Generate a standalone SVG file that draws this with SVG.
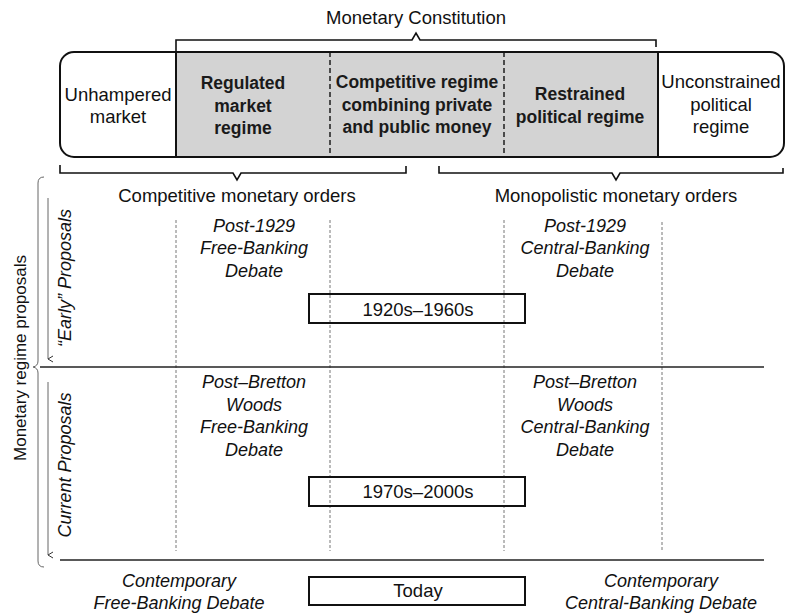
<svg xmlns="http://www.w3.org/2000/svg" width="786" height="615" viewBox="0 0 786 615">
<defs>
<marker id="arr" markerWidth="8" markerHeight="8" refX="4" refY="7" orient="auto-start-reverse" markerUnits="userSpaceOnUse">
<path d="M1,2 L4,7 L7,2" fill="none" stroke="#333" stroke-width="1"/>
</marker>
</defs>
<style>
text{font-family:"Liberation Sans",Arial,sans-serif;fill:#111;}
.r{font-size:18.5px;text-anchor:middle;}
.b{font-size:17.5px;font-weight:bold;text-anchor:middle;fill:#1a1a1a;}
.i{font-size:18px;font-style:italic;text-anchor:middle;}
.t{font-size:18.5px;text-anchor:middle;}
.box{fill:none;stroke:#111;stroke-width:2;}
.brk{fill:none;stroke:#111;stroke-width:1.6;}
.dot{stroke:#777;stroke-width:1;stroke-dasharray:3 2;fill:none;}
.hl{stroke:#222;stroke-width:1.6;fill:none;}
.thin{stroke:#666;stroke-width:1;fill:none;}
</style>
<rect width="786" height="615" fill="#fff"/>

<g id="regime-spectrum">
<rect x="176" y="52" width="482" height="105" fill="#d3d3d3"/>
<rect x="60" y="52" width="724" height="105" rx="14" ry="14" class="box"/>
<line x1="176" y1="52" x2="176" y2="157" stroke="#111" stroke-width="2"/>
<line x1="658" y1="52" x2="658" y2="157" stroke="#111" stroke-width="2"/>
<line x1="330" y1="52" x2="330" y2="157" stroke="#111" stroke-width="1.4" stroke-dasharray="5 3"/>
<line x1="504" y1="52" x2="504" y2="157" stroke="#111" stroke-width="1.4" stroke-dasharray="5 3"/>
</g>
<g id="unhampered">
<text class="r" x="118" y="101">Unhampered</text>
<text class="r" x="118" y="123">market</text>
</g>
<g id="regulated">
<text class="b" x="243" y="89">Regulated</text>
<text class="b" x="243" y="112">market</text>
<text class="b" x="243" y="134">regime</text>
</g>
<g id="competitive">
<text class="b" x="417" y="88">Competitive regime</text>
<text class="b" x="417" y="111">combining private</text>
<text class="b" x="417" y="133">and public money</text>
</g>
<g id="restrained">
<text class="b" x="580" y="100">Restrained</text>
<text class="b" x="580" y="123">political regime</text>
</g>
<g id="unconstrained">
<text class="r" x="721" y="88">Unconstrained</text>
<text class="r" x="721" y="111">political</text>
<text class="r" x="721" y="133">regime</text>
</g>

<g id="monetary-constitution">
<path class="brk" d="M176,52 L176,40 L412,40 L416,33 L420,40 L656,40 L656,47"/>
<text class="r" x="416" y="24">Monetary Constitution</text>
</g>
<g id="competitive-orders">
<path class="brk" d="M60,165 L60,173 L233,173 L237,180 L241,173 L406,173 L406,166"/>
<text class="r" x="237" y="202">Competitive monetary orders</text>
</g>
<g id="monopolistic-orders">
<path class="brk" d="M439,166 L439,173 L612,173 L616,180 L620,173 L783,173 L783,168"/>
<text class="r" x="616" y="202">Monopolistic monetary orders</text>
</g>

<g id="connectors">
<line class="dot" x1="176" y1="220" x2="176" y2="551"/>
<line class="dot" x1="330" y1="220" x2="330" y2="551"/>
<line class="dot" x1="504" y1="220" x2="504" y2="551"/>
<line class="dot" x1="662" y1="222" x2="662" y2="551"/>
<line class="hl" x1="40" y1="367" x2="764" y2="367"/>
<line class="hl" x1="60" y1="560" x2="764" y2="560" stroke="#444"/>
<path class="thin" d="M44,177 Q38,177 38,183 L38,361 Q38,366 33,367 Q38,368 38,373 L38,561 Q38,567 44,567"/>
<line class="thin" x1="48" y1="198" x2="48" y2="359" marker-end="url(#arr)"/>
<line class="thin" x1="48" y1="382" x2="48" y2="555" marker-end="url(#arr)"/>
</g>

<g id="axis-label">
<text class="r" style="font-size:17px" transform="translate(26,358) rotate(-90)">Monetary regime proposals</text>
</g>
<g id="early-label">
<text class="i" transform="translate(71,278) rotate(-90)">“Early” Proposals</text>
</g>
<g id="current-label">
<text class="i" transform="translate(71,465) rotate(-90)">Current Proposals</text>
</g>

<g id="post1929-free">
<text class="i" x="254" y="232">Post-1929</text>
<text class="i" x="254" y="254">Free-Banking</text>
<text class="i" x="254" y="277">Debate</text>
</g>
<g id="post1929-central">
<text class="i" x="585" y="232">Post-1929</text>
<text class="i" x="585" y="254">Central-Banking</text>
<text class="i" x="585" y="277">Debate</text>
</g>
<g id="period-1920s">
<rect class="box" x="309" y="294" width="216" height="29"/>
<text class="t" x="418" y="316">1920s–1960s</text>
</g>

<g id="bretton-free">
<text class="i" x="254" y="388">Post–Bretton</text>
<text class="i" x="254" y="411">Woods</text>
<text class="i" x="254" y="433">Free-Banking</text>
<text class="i" x="254" y="456">Debate</text>
</g>
<g id="bretton-central">
<text class="i" x="585" y="388">Post–Bretton</text>
<text class="i" x="585" y="411">Woods</text>
<text class="i" x="585" y="433">Central-Banking</text>
<text class="i" x="585" y="456">Debate</text>
</g>
<g id="period-1970s">
<rect class="box" x="309" y="477" width="216" height="29"/>
<text class="t" x="418" y="498">1970s–2000s</text>
</g>

<g id="contemporary-free">
<text class="i" x="179" y="587">Contemporary</text>
<text class="i" x="179" y="609">Free-Banking Debate</text>
</g>
<g id="contemporary-central">
<text class="i" x="661" y="587">Contemporary</text>
<text class="i" x="661" y="609">Central-Banking Debate</text>
</g>
<g id="period-today">
<rect class="box" x="309" y="577" width="216" height="28"/>
<text class="t" x="418" y="597">Today</text>
</g>
</svg>
